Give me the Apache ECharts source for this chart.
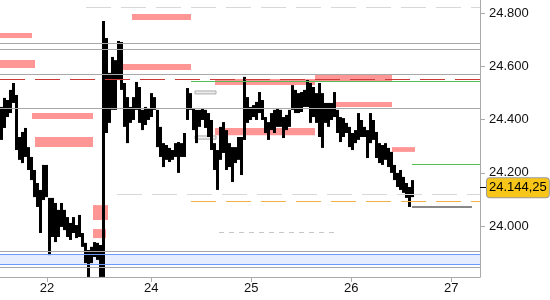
<!DOCTYPE html>
<html><head><meta charset="utf-8">
<script src="https://cdn.jsdelivr.net/npm/echarts@6/dist/echarts.min.js"></script>
<style>html,body{margin:0;padding:0;background:#fff}#c{width:550px;height:300px}</style>
</head><body><div id="c"></div>
<script>
// ---- data ----
const barStart = 22.502, barStep = 0.03;
const barHigh = [24448,24482,24474,24512,24538,24493,24335,24354,24369,24297,24260,24211,24162,24136,24230,24230,24106,24106,24087,24061,
24087,24061,24034,24012,24034,24004,24042,23974,23937,23910,23922,23940,23937,23929,24771,24707,24576,24636,24624,24696,
24692,24538,24485,24448,24485,24542,24523,24437,24448,24444,24500,24485,24437,24373,24312,24305,24294,24286,24312,24316,
24312,24350,24519,24500,24444,24437,24437,24444,24437,24425,24399,24312,24286,24373,24391,24361,24312,24297,24297,24335,
24335,24561,24485,24448,24455,24467,24504,24474,24410,24391,24425,24437,24444,24437,24410,24418,24437,24530,24512,24500,
24504,24512,24549,24538,24523,24500,24538,24500,24463,24463,24463,24504,24437,24410,24406,24388,24373,24350,24361,24425,
24399,24373,24361,24425,24399,24354,24312,24305,24312,24294,24279,24230,24200,24211,24185,24162,24147,24173];
const barLow = [24324,24369,24410,24425,24463,24286,24249,24237,24260,24211,24173,24109,24072,23974,24098,24109,23891,23959,23940,23959,
23997,23985,23959,23948,23974,23955,23959,23922,23861,23809,23861,23884,23873,23809,23809,24350,24388,24437,24437,24549,
24512,24373,24312,24388,24399,24437,24388,24361,24380,24399,24410,24437,24297,24260,24222,24249,24241,24249,24260,24200,
24260,24260,24399,24437,24361,24312,24373,24399,24369,24335,24286,24211,24136,24249,24275,24211,24222,24166,24237,24249,
24192,24324,24388,24399,24410,24399,24425,24399,24350,24324,24361,24350,24373,24373,24331,24361,24373,24437,24425,24425,
24429,24448,24448,24388,24410,24388,24335,24294,24388,24373,24399,24410,24350,24316,24335,24350,24297,24286,24312,24324,
24335,24335,24256,24312,24324,24256,24237,24230,24249,24222,24200,24173,24147,24136,24125,24106,24072,24109];
const lastPrice = 24144.25;

const xTickValues = [22.957, 24, 25, 26, 27];
const xTickLabels = ['22', '24', '25', '26', '27'];
const yTickValues = [24000, 24200, 24400, 24600, 24800];

// horizontal levels (price) and segments [price, tStart, tEnd]
const grayLevels = [24687, 24665, 24569, 24443, 23905, 23845];
const blueLevels = [23894, 23856];
const blueBand = [23894, 23856];
const redDashLevel = 24552;
const lightDashSegs = [[24823, 23.347, 27.287], [24120, 23.657, 27.287]];
const greenSegs = [[24545, 24.397, 27.287], [24233, 26.607, 27.287]];
const orangeDashSegs = [[24093, 24.397, 27.287]];
const shortDashSegs = [[23978, 24.677, 25.827]];
const darkGraySegs = [[24072, 26.607, 27.207]];
// pink zones [tStart, tEnd, priceTop, priceBottom]
const pinkZones = [
  [22.40, 22.807, 24726, 24707],
  [22.40, 22.837, 24624, 24594],
  [22.807, 23.417, 24425, 24403],
  [22.837, 23.417, 24335, 24297],
  [23.807, 24.397, 24797, 24775],
  [23.687, 24.397, 24609, 24587],
  [24.637, 25.637, 24553, 24530],
  [25.637, 26.407, 24568, 24545],
  [24.637, 25.637, 24369, 24342],
  [25.827, 26.407, 24467, 24448],
  [26.407, 26.637, 24297, 24279],
  [23.417, 23.567, 24079, 24023],
  [23.417, 23.547, 23989, 23955]
];
const grayBoxes = [
  [24.437, 24.647, 24508, 24497],
  [24.437, 24.647, 24339, 24327]
];
const xMin = 22.487, xMax = 27.287, yMin = 23808.7, yMax = 24850;

// ---- helpers ----
function de(v, dec) {
  const parts = v.toFixed(dec).split('.');
  parts[0] = parts[0].replace(/\B(?=(\d{3})+(?!\d))/g, '.');
  return parts.join(',');
}
const bars = barHigh.map((h, i) => [barStart + barStep * i, barLow[i], h]);

function seg(list, style) {
  return list.map(s => [{coord: [s[1], s[0]], lineStyle: style}, {coord: [s[2], s[0]]}]);
}
const full = (p, style) => [{coord: [xMin, p], lineStyle: style}, {coord: [xMax, p]}];

const lineData = [];
grayLevels.forEach(p => lineData.push(full(p, {color: '#a8a8a8', width: 1, type: 'solid'})));
blueLevels.forEach(p => lineData.push(full(p, {color: '#6b9bff', width: 1, type: 'solid'})));
lineData.push(full(redDashLevel, {color: '#cc3a3a', width: 1, type: [25, 10]}));
seg(lightDashSegs, {color: '#d8d8d8', width: 1, type: [25, 10]}).forEach(d => lineData.push(d));
seg(greenSegs, {color: '#55bb55', width: 1, type: 'solid'}).forEach(d => lineData.push(d));
seg(orangeDashSegs, {color: '#f2b24a', width: 1, type: [25, 10]}).forEach(d => lineData.push(d));
seg(shortDashSegs, {color: '#c8c8c8', width: 1, type: [5, 5]}).forEach(d => lineData.push(d));
seg(darkGraySegs, {color: '#888888', width: 2, type: 'solid'}).forEach(d => lineData.push(d));

const areaData = [];
areaData.push([{coord: [xMin, blueBand[0]], itemStyle: {color: '#e6ecff'}}, {coord: [xMax, blueBand[1]]}]);
pinkZones.forEach(z => areaData.push([{coord: [Math.max(z[0], xMin), z[2]], itemStyle: {color: '#ff9696'}}, {coord: [z[1], z[3]]}]));
grayBoxes.forEach(z => areaData.push([{coord: [z[0], z[2]], itemStyle: {color: '#eeeeee', borderColor: '#aaaaaa', borderWidth: 1}}, {coord: [z[1], z[3]]}]));

const axisFont = {fontFamily: 'Liberation Sans, Arial, sans-serif', fontSize: 13, color: '#111'};

const chart = echarts.init(document.getElementById('c'), null, {renderer: 'canvas'});
chart.setOption({
  animation: false,
  backgroundColor: '#fff',
  grid: {left: 0, right: 70, top: 0, bottom: 23, containLabel: false},
  axisPointer: {triggerOn: 'none'},
  xAxis: {
    type: 'value', min: xMin, max: xMax,
    axisLine: {show: true, lineStyle: {color: '#aaaaaa'}},
    axisTick: {show: true, length: 5, customValues: xTickValues, lineStyle: {color: '#aaaaaa'}},
    axisLabel: Object.assign({margin: 5, customValues: xTickValues,
      formatter: v => { const i = xTickValues.findIndex(t => Math.abs(t - v) < 1e-6); return i >= 0 ? xTickLabels[i] : ''; }}, axisFont),
    splitLine: {show: false}
  },
  yAxis: [{
    type: 'value', position: 'right', min: yMin, max: yMax,
    axisLine: {show: true, lineStyle: {color: '#aaaaaa'}},
    axisTick: {show: true, length: 5, customValues: yTickValues, lineStyle: {color: '#aaaaaa'}},
    axisLabel: Object.assign({margin: 9, customValues: yTickValues, formatter: v => de(v, 0)}, axisFont),
    splitLine: {show: false},
    axisPointer: {
      show: true, value: lastPrice, status: 'show', triggerTooltip: false, type: 'line',
      lineStyle: {opacity: 0},
      label: {show: true, formatter: p => de(p.value, 2), margin: 7, padding: [3, 2, 3, 2],
        backgroundColor: '#f7c619', borderColor: '#9a9a9a', borderWidth: 1, color: '#000',
        fontFamily: 'Liberation Sans, Arial, sans-serif', fontSize: 13}
    }
  }, {
    type: 'value', position: 'right', min: yMin, max: yMax,
    axisLine: {show: false},
    axisTick: {show: true, length: 6, customValues: [lastPrice], lineStyle: {color: '#000'}},
    axisLabel: {show: false}, splitLine: {show: false}
  }],
  series: [{
    type: 'line', data: [], silent: true, z: 1,
    markArea: {silent: true, data: areaData}
  }, {
    type: 'custom', z: 2, clip: true, data: bars,
    encode: {x: 0, y: [1, 2]},
    renderItem: (params, api) => {
      const t = api.value(0), lo = api.value(1), hi = api.value(2);
      const a = api.coord([t, hi]), b = api.coord([t, lo]);
      const w = api.size([barStep, 0])[0];
      return {type: 'rect', shape: {x: a[0] - w / 2, y: a[1], width: w, height: Math.max(1, b[1] - a[1])}, style: {fill: '#000'}};
    }
  }, {
    type: 'line', data: [], silent: true, z: 3,
    markLine: {silent: true, symbol: 'none', label: {show: false}, data: lineData}
  }]
});
</script>
</body></html>
